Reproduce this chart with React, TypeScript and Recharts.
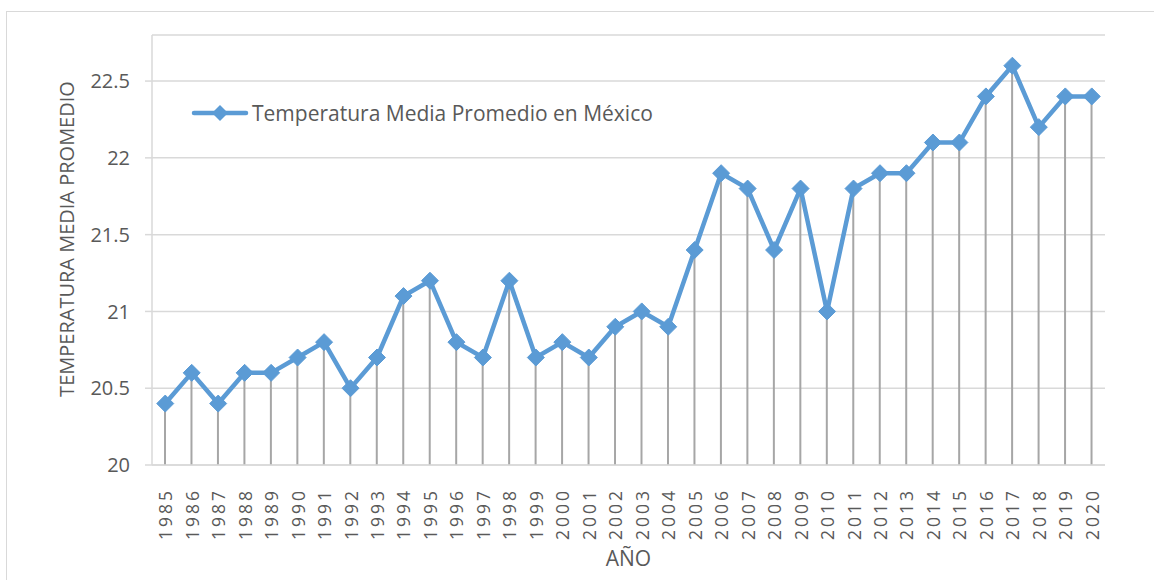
import * as React from "react";
import { ComposedChart, Line, Bar, XAxis, YAxis, CartesianGrid } from "recharts";

const years = [
  "1985", "1986", "1987", "1988", "1989", "1990", "1991", "1992", "1993", "1994",
  "1995", "1996", "1997", "1998", "1999", "2000", "2001", "2002", "2003", "2004",
  "2005", "2006", "2007", "2008", "2009", "2010", "2011", "2012", "2013", "2014",
  "2015", "2016", "2017", "2018", "2019", "2020",
];

const temperatures = [
  20.4, 20.6, 20.4, 20.6, 20.6, 20.7, 20.8, 20.5, 20.7, 21.1,
  21.2, 20.8, 20.7, 21.2, 20.7, 20.8, 20.7, 20.9, 21.0, 20.9,
  21.4, 21.9, 21.8, 21.4, 21.8, 21.0, 21.8, 21.9, 21.9, 22.1,
  22.1, 22.4, 22.6, 22.2, 22.4, 22.4,
];

const yTicks = [20, 20.5, 21, 21.5, 22, 22.5];

const SERIES_NAME = "Temperatura Media Promedio en México";
const FONT = "'Open Sans', sans-serif";
const BLUE = "#5b9bd5";
const TEXT = "#595959";
const GRID = "#d9d9d9";

const data = years.map((year, i) => ({ year, temp: temperatures[i] }));

// diamond marker like Excel
function Diamond(props: any) {
  const { cx, cy } = props;
  if (cx == null || cy == null) return null;
  const r = 8.5;
  return (
    <path
      d={`M${cx},${cy - r} L${cx + r},${cy} L${cx},${cy + r} L${cx - r},${cy} Z`}
      fill={BLUE}
      stroke={BLUE}
      strokeWidth={1}
    />
  );
}

function YearTick(props: any) {
  const { x, y, payload } = props;
  const ty = y + 15;
  return (
    <text
      x={x}
      y={ty}
      transform={`rotate(-90, ${x}, ${ty})`}
      textAnchor="end"
      dominantBaseline="central"
      fill={TEXT}
      fontSize={17.5}
      fontFamily={FONT}
      letterSpacing={3}
    >
      {payload.value}
    </text>
  );
}

function LegendBox() {
  return (
    <div
      style={{
        position: "absolute",
        left: 191,
        top: 99,
        display: "flex",
        alignItems: "center",
        fontFamily: FONT,
        fontSize: 21,
        color: TEXT,
        whiteSpace: "nowrap",
        lineHeight: "28px",
      }}
    >
      <svg width={58} height={20} style={{ marginRight: 3 }}>
        <line x1={3} y1={10} x2={55} y2={10} stroke={BLUE} strokeWidth={4.5} strokeLinecap="round" />
        <path d="M29,2 L37,10 L29,18 L21,10 Z" fill={BLUE} />
      </svg>
      <span>{SERIES_NAME}</span>
    </div>
  );
}

export default function App() {
  return (
    <div style={{ position: "absolute", left: 0, top: 0, width: 1154, height: 580, background: "#fff", overflow: "hidden" }}>
      <div
        style={{
          position: "absolute",
          left: 6,
          top: 11,
          width: 1160,
          height: 620,
          border: `1.5px solid ${GRID}`,
        }}
      />
      <ComposedChart
        width={1154}
        height={580}
        data={data}
        margin={{ top: 35, right: 49, left: 0, bottom: 0 }}
        barCategoryGap={0}
        style={{ position: "absolute", left: 0, top: 0 }}
      >
        <CartesianGrid vertical={false} stroke={GRID} strokeWidth={1.5} />
        <XAxis
          dataKey="year"
          height={115}
          interval={0}
          tick={<YearTick />}
          tickLine={false}
          axisLine={{ stroke: GRID, strokeWidth: 1.5 }}
          label={({ viewBox }: any) => (
            <text
              x={viewBox.x + viewBox.width / 2}
              y={viewBox.y + 101}
              textAnchor="middle"
              fill={TEXT}
              fontSize={21}
              fontFamily={FONT}
            >
              AÑO
            </text>
          )}
        />
        <YAxis
          width={152}
          domain={[20, 22.8]}
          ticks={yTicks}
          allowDataOverflow
          tickSize={7}
          tickLine={{ stroke: GRID, strokeWidth: 1.5 }}
          axisLine={{ stroke: GRID, strokeWidth: 1.5 }}
          tickMargin={15}
          tick={{ fill: TEXT, fontSize: 20, fontFamily: FONT }}
          label={({ viewBox }: any) => {
            const cx = viewBox.x + 66;
            const cy = viewBox.y + 204;
            return (
              <text
                x={cx}
                y={cy}
                transform={`rotate(-90, ${cx}, ${cy})`}
                textAnchor="middle"
                dominantBaseline="central"
                fill={TEXT}
                fontSize={20}
                fontFamily={FONT}
              >
                TEMPERATURA MEDIA PROMEDIO
              </text>
            );
          }}
        />
        <Bar dataKey="temp" barSize={2} fill="#a6a6a6" isAnimationActive={false} legendType="none" />
        <Line
          dataKey="temp"
          name={SERIES_NAME}
          stroke={BLUE}
          strokeWidth={4.5}
          dot={<Diamond />}
          activeDot={false}
          isAnimationActive={false}
        />
      </ComposedChart>
      <LegendBox />
    </div>
  );
}
